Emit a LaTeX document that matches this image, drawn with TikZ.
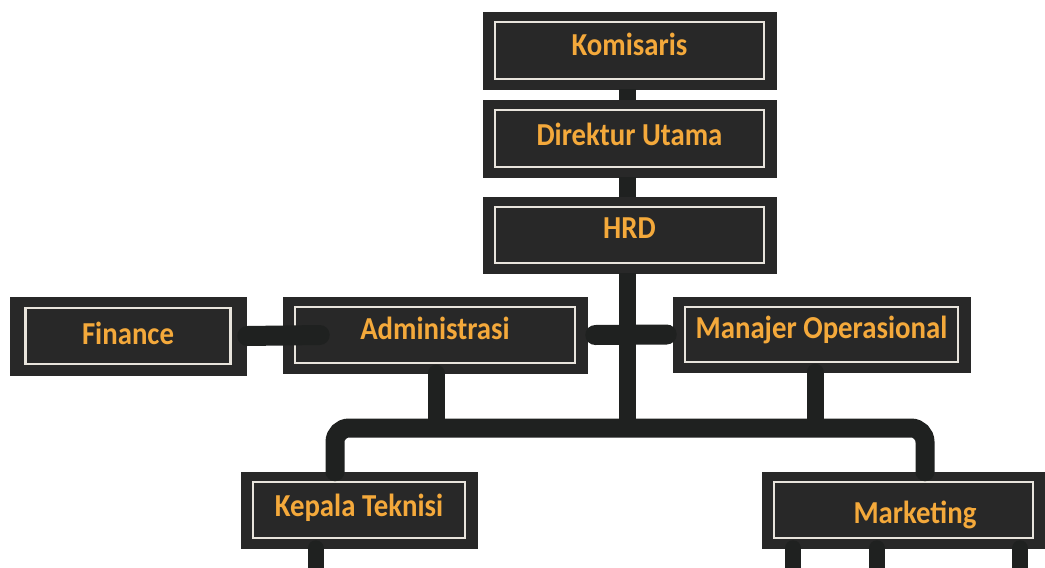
\documentclass[tikz,border=0pt]{standalone}
\usepackage{fontspec}
\setmainfont{Carlito}
\newfontfamily\boxfont{Carlito}[FakeStretch=0.9]
\definecolor{boxfill}{HTML}{282828}
\definecolor{conncol}{HTML}{1F2120}
\definecolor{framecol}{HTML}{E8E4DC}
\definecolor{txtcol}{HTML}{F4A93B}
\pgfkeys{/org/fx/.initial=12pt, /org/fy/.initial=10pt}
\begin{document}
\begin{tikzpicture}[x=1pt,y=-1pt,
  orgbox/.style={draw=boxfill, fill=boxfill, line width=0.5pt, minimum width=#1,
    inner sep=0pt, minimum height=76pt, font=\boxfont\bfseries\fontsize{32}{34}\selectfont,
    text=txtcol, text height=14pt, text depth=6pt,
    path picture={\draw[framecol, line width=2.6pt]
      ([shift={(\pgfkeysvalueof{/org/fx},-\pgfkeysvalueof{/org/fy})}]path picture bounding box.north west) rectangle
      ([shift={(-\pgfkeysvalueof{/org/fx},\pgfkeysvalueof{/org/fy})}]path picture bounding box.south east);}},
  conn/.style={draw=conncol, line width=17pt, line cap=round}]
\useasboundingbox (0,0) rectangle (1045,568);
\clip (0,0) rectangle (1045,568);
% boxes
\node[orgbox=293pt, minimum height=77pt, text height=15pt] (kom) at (629.5,50.5) {Komisaris};
\node[orgbox=293pt, minimum height=77pt, text height=20pt] (dir) at (629.5,138.5) {Direktur Utama};
\node[orgbox=293pt, text height=13pt] (hrd) at (629.5,235) {HRD};
\node[orgbox=236pt, minimum height=78pt, text height=22pt, /org/fx=15.5pt, /org/fy=11pt] (fin) at (128,336) {Finance};
\node[orgbox=304pt] (adm) at (435,335) {Administrasi};
\node[orgbox=297pt, minimum height=75pt] (man) at (821.5,334.5) {Manajer Operasional};
\node[orgbox=236pt, text height=18pt] (kep) at (359,510) {Kepala Teknisi};
\node[orgbox=283pt, text height=32pt] (mar) at (903.5,510) {\hspace*{23pt}Marketing};
\coordinate (hub) at (627,428);
% connectors
\draw[conn, line cap=butt] ([xshift=-2.5pt]kom.south) -- ([xshift=-2.5pt]dir.north);
\draw[conn, line cap=butt] ([xshift=-2.5pt]dir.south) -- ([xshift=-2.5pt]hrd.north);
\draw[conn, line cap=butt] ([xshift=-2.5pt]hrd.south) -- (hub);
\draw[conn, line width=20pt] ([xshift=1pt]fin.east) -- ([xshift=37pt]adm.west);
\draw[conn, line width=20pt] ([xshift=8pt]adm.east) -- ([xshift=-6pt]man.west);
\draw[conn] ([xshift=1pt]adm.south) -- ([xshift=1pt]adm.south |- hub);
\draw[conn] ([xshift=-6.5pt]man.south) -- ([xshift=-6.5pt]man.south |- hub);
\draw[conn, line width=19pt, rounded corners=14pt] ([xshift=-24pt]kep.north) |- (hub) -| ([xshift=21.5pt]mar.north);
\draw[conn, line width=16pt] ([xshift=-43.5pt]kep.south) -- ++(0,30);
\draw[conn, line width=16pt] ([xshift=-110.5pt]mar.south) -- ++(0,30);
\draw[conn, line width=16pt] ([xshift=-26.5pt]mar.south) -- ++(0,30);
\draw[conn, line width=16pt] ([xshift=116.5pt]mar.south) -- ++(0,30);
\end{tikzpicture}
\end{document}
